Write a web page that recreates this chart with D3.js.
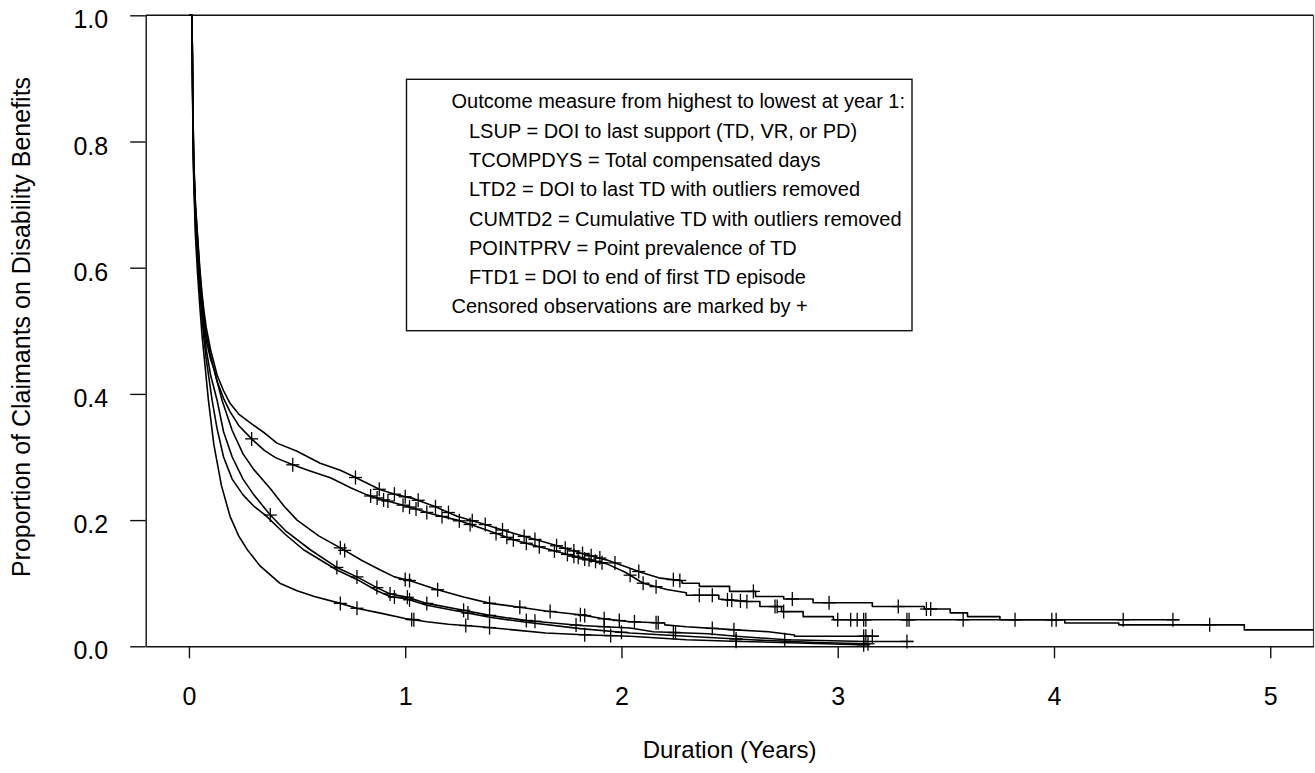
<!DOCTYPE html>
<html>
<head>
<meta charset="utf-8">
<script src="https://cdn.jsdelivr.net/npm/d3@7/dist/d3.min.js"></script>
<style>
  html, body { margin: 0; padding: 0; background: #fff; }
  svg { display: block; }
  text { font-family: "Liberation Sans", Arial, Helvetica, sans-serif; fill: #000; }
</style>
</head>
<body>
<svg id="chart" width="1315" height="773"></svg>
<script>
// ---------------- data ----------------
const seriesNames = ["LSUP", "TCOMPDYS", "LTD2", "CUMTD2", "POINTPRV", "FTD1"];

const xTicks = [0, 1, 2, 3, 4, 5];
const yTicks = [0, 0.2, 0.4, 0.6, 0.8, 1.0];

const legendLines = [
  "Outcome measure from highest to lowest at year 1:",
  "LSUP = DOI to last support (TD, VR, or PD)",
  "TCOMPDYS = Total compensated days",
  "LTD2 = DOI to last TD with outliers removed",
  "CUMTD2 = Cumulative TD with outliers removed",
  "POINTPRV = Point prevalence of TD",
  "FTD1 = DOI to end of first TD episode",
  "Censored observations are marked by +"
];
const legendIndent = [false, true, true, true, true, true, true, false];

// survival curves: [years, proportion]
const lsup = [[0,1],[0.014,1],[0.018,0.86],[0.022,0.77],[0.03,0.70],[0.04,0.65],[0.05,0.6],[0.06,0.56],[0.07,0.53],[0.08,0.505],[0.1,0.47],[0.13,0.43],[0.16,0.405],[0.19,0.385],[0.23,0.368],[0.284,0.354],[0.35,0.338],[0.407,0.322],[0.5,0.309],[0.607,0.29],[0.7,0.279],[0.761,0.269],[0.885,0.248],[0.96,0.24],[1.04,0.234],[1.14,0.221],[1.24,0.206],[1.35,0.195],[1.5,0.179],[1.655,0.164],[1.81,0.148],[1.93,0.137],[2.02,0.126],[2.1,0.116],[2.18,0.108],[2.28,0.104],[2.28,0.1],[2.36,0.1],[2.36,0.095],[2.5,0.095],[2.5,0.087],[2.62,0.087],[2.62,0.079],[2.75,0.079],[2.75,0.075],[2.886,0.075],[2.886,0.069],[3.16,0.069],[3.16,0.063],[3.4,0.063],[3.4,0.059],[3.52,0.059],[3.52,0.053],[3.6,0.053],[3.6,0.047],[3.75,0.047],[3.75,0.042],[4.05,0.042],[4.05,0.037],[4.3,0.037],[4.3,0.034],[4.88,0.034],[4.88,0.026],[5.2,0.026]];
const tcompdys = [[0,1],[0.014,1],[0.018,0.86],[0.022,0.77],[0.03,0.70],[0.04,0.645],[0.05,0.595],[0.06,0.555],[0.07,0.52],[0.08,0.495],[0.1,0.46],[0.13,0.42],[0.16,0.393],[0.19,0.372],[0.23,0.35],[0.292,0.328],[0.35,0.31],[0.4,0.299],[0.477,0.288],[0.55,0.279],[0.654,0.267],[0.75,0.251],[0.823,0.24],[0.9,0.232],[1.008,0.222],[1.12,0.21],[1.24,0.2],[1.37,0.185],[1.5,0.169],[1.65,0.155],[1.81,0.14],[1.93,0.131],[2.02,0.117],[2.1,0.1],[2.21,0.09],[2.3,0.085],[2.3,0.081],[2.45,0.081],[2.45,0.075],[2.578,0.071],[2.64,0.071],[2.64,0.063],[2.74,0.063],[2.74,0.055],[2.84,0.055],[2.84,0.047],[2.98,0.047],[2.98,0.042],[4.58,0.042]];
const ltd2 = [[0,1],[0.014,1],[0.018,0.85],[0.022,0.76],[0.03,0.69],[0.04,0.635],[0.05,0.585],[0.06,0.545],[0.07,0.51],[0.08,0.485],[0.1,0.455],[0.115,0.44],[0.153,0.39],[0.2,0.342],[0.25,0.305],[0.3,0.28],[0.376,0.25],[0.44,0.222],[0.5,0.2],[0.6,0.175],[0.7,0.156],[0.8,0.136],[0.885,0.121],[0.95,0.11],[1.023,0.104],[1.146,0.09],[1.27,0.078],[1.393,0.068],[1.53,0.062],[1.65,0.056],[1.81,0.05],[1.93,0.043],[2.04,0.039],[2.2,0.037],[2.2,0.034],[2.3,0.031],[2.53,0.026],[2.68,0.023],[2.8,0.018],[2.8,0.016],[3.19,0.016]];
const cumtd2 = [[0,1],[0.014,1],[0.018,0.85],[0.022,0.755],[0.03,0.68],[0.04,0.625],[0.05,0.575],[0.06,0.535],[0.07,0.5],[0.08,0.47],[0.1,0.43],[0.13,0.39],[0.16,0.34],[0.2,0.3],[0.25,0.265],[0.3,0.24],[0.376,0.208],[0.45,0.182],[0.561,0.153],[0.684,0.125],[0.777,0.11],[0.869,0.093],[0.93,0.083],[1.008,0.078],[1.1,0.068],[1.27,0.057],[1.39,0.049],[1.56,0.041],[1.81,0.033],[2.04,0.029],[2.147,0.023],[2.4,0.02],[2.53,0.016],[2.763,0.0103],[3.13,0.0077],[3.35,0.0077]];
const pointprv = [[0,1],[0.014,1],[0.018,0.84],[0.022,0.75],[0.03,0.665],[0.04,0.61],[0.05,0.565],[0.06,0.52],[0.07,0.485],[0.08,0.455],[0.107,0.39],[0.13,0.345],[0.16,0.3],[0.2,0.265],[0.25,0.24],[0.3,0.222],[0.353,0.208],[0.45,0.176],[0.53,0.153],[0.684,0.121],[0.777,0.106],[0.869,0.088],[0.93,0.079],[1.008,0.075],[1.1,0.065],[1.27,0.054],[1.39,0.046],[1.56,0.038],[1.81,0.028],[2.04,0.021],[2.3,0.016],[2.6,0.0103],[2.9,0.006],[3.14,0.004]];
const ftd1 = [[0,1],[0.014,1],[0.018,0.83],[0.022,0.74],[0.03,0.65],[0.04,0.59],[0.05,0.54],[0.06,0.495],[0.07,0.46],[0.09,0.39],[0.115,0.32],[0.15,0.255],[0.19,0.206],[0.23,0.175],[0.27,0.153],[0.33,0.127],[0.42,0.1],[0.5,0.088],[0.58,0.079],[0.7,0.068],[0.78,0.06],[0.88,0.053],[1.0,0.044],[1.1,0.039],[1.2,0.035],[1.35,0.031],[1.5,0.026],[1.65,0.021],[1.85,0.018],[2.04,0.016],[2.3,0.0103],[2.55,0.0077],[2.9,0.0045],[3.1,0.0024],[3.14,0.0024]];

// censoring times (years)
const lsupCens = [0.77,0.88,0.95,1.0,1.06,1.14,1.2,1.31,1.37,1.45,1.55,1.6,1.7,1.74,1.78,1.82,1.86,1.9,1.97,2.08,2.24,2.27,2.61,2.79,2.96,3.28,3.41,3.43,3.82,3.99,4.01,4.72];
const tcompdysCens = [0.29,0.48,0.84,0.87,0.9,0.92,0.99,1.02,1.05,1.1,1.17,1.25,1.3,1.42,1.47,1.5,1.56,1.62,1.69,1.75,1.78,1.8,1.83,1.85,1.88,1.91,2.04,2.1,2.16,2.36,2.42,2.49,2.51,2.55,2.58,2.71,2.72,2.75,3.0,3.06,3.09,3.12,3.13,3.32,3.33,3.58,4.32,4.55];
const ltd2Cens = [0.7,0.72,1.0,1.02,1.15,1.39,1.53,1.67,1.81,1.83,1.92,1.99,2.06,2.16,2.17,2.42,2.52,3.12,3.13,3.16];
const cumtd2Cens = [0.376,0.684,0.777,0.869,0.93,1.01,1.1,1.27,1.39,1.56,1.6,1.79,1.92,2.24,2.25,2.755,3.32];
const pointprvCens = [0.95,1.02,1.29,2.0,2.53,3.14];
const ftd1Cens = [0.7,0.777,1.03,1.04,1.28,1.39,1.83,1.95,2.53,3.12];

const curves = [lsup, tcompdys, ltd2, cumtd2, pointprv, ftd1];
const censors = [lsupCens, tcompdysCens, ltd2Cens, cumtd2Cens, pointprvCens, ftd1Cens];

// ---------------- drawing ----------------
const svg = d3.select("#chart");
const plotLeft = 145.7, plotRight = 1313.5, plotTop = 15.3, plotBottom = 646.3;

const x = d3.scaleLinear().domain([-0.2, 5.2]).range([plotLeft, plotRight]);
const y = d3.scaleLinear().domain([0, 1]).range([plotBottom, plotTop]);

// box top / right
svg.append("line").attr("x1", plotLeft).attr("x2", plotRight).attr("y1", plotTop).attr("y2", plotTop)
  .attr("stroke", "#111").attr("stroke-width", 1.4);
svg.append("line").attr("x1", plotRight).attr("x2", plotRight).attr("y1", plotTop).attr("y2", plotBottom)
  .attr("stroke", "#444").attr("stroke-width", 1.2);

// x axis
const gx = svg.append("g").attr("transform", `translate(0,${plotBottom})`)
  .call(d3.axisBottom(x).tickValues(xTicks).tickFormat(d3.format("d")).tickSize(12).tickSizeOuter(0));
gx.select(".domain").attr("stroke", "#111").attr("stroke-width", 1.4);
gx.selectAll(".tick line").attr("stroke", "#111").attr("stroke-width", 1.4);
gx.selectAll(".tick text").attr("y", 59).attr("dy", null)
  .style("font-size", "25px").style("font-family", '"Liberation Sans", Arial, sans-serif').attr("fill", "#000");

// y axis
const gy = svg.append("g").attr("transform", `translate(${plotLeft},0)`)
  .call(d3.axisLeft(y).tickValues(yTicks).tickFormat(d3.format(".1f")).tickSize(15.5).tickSizeOuter(0));
gy.select(".domain").attr("stroke", "#111").attr("stroke-width", 1.4);
gy.selectAll(".tick line").attr("stroke", "#111").attr("stroke-width", 1.4);
gy.selectAll(".tick text").attr("x", -37.5).attr("dy", null).attr("y", 12.5)
  .style("font-size", "25px").style("font-family", '"Liberation Sans", Arial, sans-serif').attr("fill", "#000");

// axis titles
svg.append("text").attr("x", (plotLeft + plotRight) / 2).attr("y", 758)
  .attr("text-anchor", "middle").style("font-size", "24px").text("Duration (Years)");
svg.append("text").attr("transform", `translate(30,327) rotate(-90)`)
  .attr("text-anchor", "middle").style("font-size", "25px")
  .text("Proportion of Claimants on Disability Benefits");

// curves
const line = d3.line().x(d => x(d[0])).y(d => y(d[1])).curve(d3.curveLinear);
const gc = svg.append("g");
curves.forEach(c => {
  gc.append("path").datum(c).attr("d", line)
    .attr("fill", "none").attr("stroke", "#000").attr("stroke-width", 1.6)
    .attr("stroke-linejoin", "round");
});

// position on the drawn curve at time t
function valueAt(c, t) {
  for (let i = 0; i < c.length - 1; i++) {
    const a = c[i], b = c[i + 1];
    if (t >= a[0] && t <= b[0]) {
      if (b[0] === a[0]) return b[1];
      return a[1] + (b[1] - a[1]) * (t - a[0]) / (b[0] - a[0]);
    }
  }
  return c[c.length - 1][1];
}

censors.forEach((ts, i) => {
  const c = curves[i];
  ts.forEach(t => {
    const px = x(t), py = y(valueAt(c, t));
    gc.append("line").attr("x1", px - 6.5).attr("x2", px + 6.5).attr("y1", py).attr("y2", py)
      .attr("stroke", "#000").attr("stroke-width", 1.3);
    gc.append("line").attr("x1", px).attr("x2", px).attr("y1", py - 7).attr("y2", py + 7)
      .attr("stroke", "#000").attr("stroke-width", 1.3);
  });
});

// legend box
const lg = svg.append("g");
lg.append("rect").attr("x", 406.5).attr("y", 79.3).attr("width", 912 - 406.5).attr("height", 330.7 - 79.3)
  .attr("fill", "#fff").attr("stroke", "#111").attr("stroke-width", 1.4);
legendLines.forEach((s, i) => {
  lg.append("text").attr("x", legendIndent[i] ? 469 : 451.5).attr("y", 108.3 + i * 29.3)
    .style("font-size", "20px").text(s);
});
</script>
</body>
</html>
